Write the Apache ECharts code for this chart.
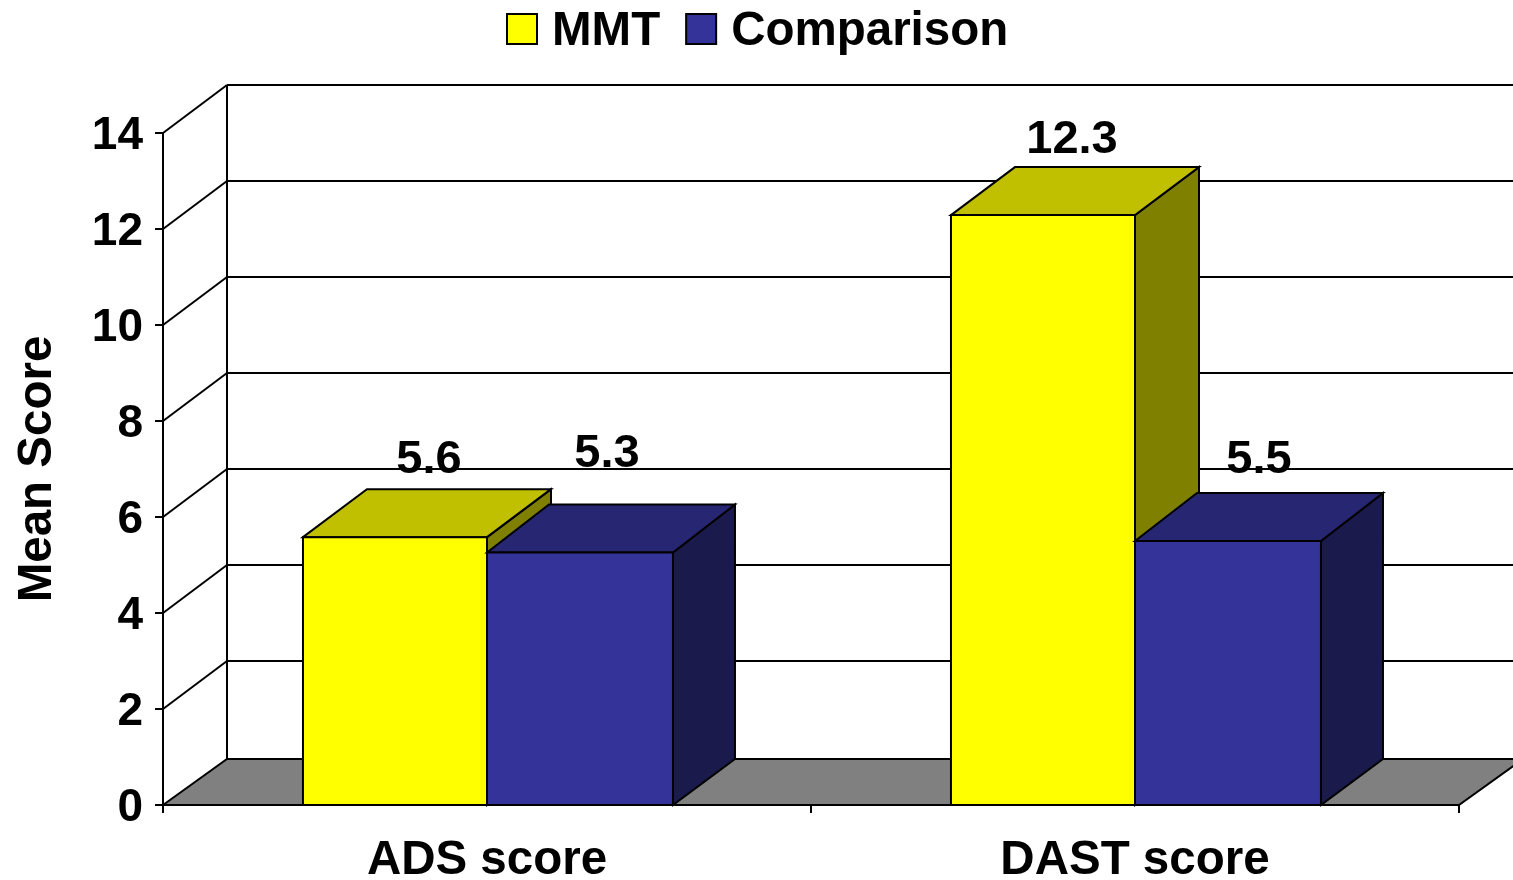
<!DOCTYPE html>
<html>
<head>
<meta charset="utf-8">
<title>Mean Score</title>
<script src="https://cdn.jsdelivr.net/npm/echarts@6/dist/echarts.min.js"></script>
<style>
  html, body { margin: 0; background: #fff; }
  #chart { width: 1513px; height: 880px; }
</style>
</head>
<body>
<div id="chart"></div>
<script>
// chart data
const categories = ['ADS score', 'DAST score'];
const mmtValues = [5.58, 12.29];
const comparisonValues = [5.26, 5.5];
const yTicks = [2, 4, 6, 8, 10, 12, 14];

// fake 3d depth of the box, in px
const depthX = 64;
const depthY = 48;
const floorDepthY = 46;
const font = 'Liberation Sans';

const line = (x1, y1, x2, y2) => ({
  type: 'line',
  shape: {x1, y1, x2, y2},
  style: {stroke: '#000', lineWidth: 2}
});

const poly = (points, fill) => ({
  type: 'polygon',
  shape: {points},
  style: {fill, stroke: '#000', lineWidth: 2, lineJoin: 'miter'}
});

// back wall line and left wall diagonal for one tick
const renderWall = (params, api) => {
  const left = params.coordSys.x;
  const right = left + params.coordSys.width;
  const y = api.coord([0, api.value(0)])[1];
  return {
    type: 'group',
    children: [
      line(left, y, left + depthX, y - depthY),
      line(left + depthX, y - depthY, right + depthX, y - depthY)
    ]
  };
};

// grey floor and the back vertical edge
const renderFloor = (params, api) => {
  const left = params.coordSys.x;
  const right = left + params.coordSys.width;
  const bottom = api.coord([0, 0])[1];
  const top = api.coord([0, yTicks[yTicks.length - 1]])[1];
  return {
    type: 'group',
    children: [
      line(left + depthX, top - depthY, left + depthX, bottom - floorDepthY),
      poly([
        [left, bottom],
        [left + depthX, bottom - floorDepthY],
        [right + depthX, bottom - floorDepthY],
        [right, bottom]
      ], '#808080')
    ]
  };
};

// one 3d bar, side tells which half of the band it takes
const makeBarRender = (side, look, labelOffsets) => (params, api) => {
  const idx = api.value(0);
  const val = api.value(1);
  const top = api.coord([idx, val]);
  const bottom = api.coord([idx, 0])[1];
  const w = api.size([1, 0])[0] * look.share;
  const dx = look.depthX;
  const x0 = side < 0 ? top[0] - w : top[0];
  const x1 = x0 + w;
  const y = top[1];
  const off = labelOffsets[idx];
  return {
    type: 'group',
    children: [
      poly([[x1, y], [x1 + dx, y - depthY], [x1 + dx, bottom - floorDepthY], [x1, bottom]], look.side),
      poly([[x0, y], [x0 + dx, y - depthY], [x1 + dx, y - depthY], [x1, y]], look.top),
      poly([[x0, y], [x1, y], [x1, bottom], [x0, bottom]], look.front),
      {
        type: 'text',
        style: {
          x: x0 + w / 2 + off[0],
          y: y + off[1],
          text: val.toFixed(1),
          fill: '#000',
          font: 'bold 47px "' + font + '"',
          align: 'center',
          verticalAlign: 'middle'
        }
      }
    ]
  };
};

const mmtLook = {front: '#ffff00', top: '#c0c000', side: '#808000', share: 0.284, depthX: 64};
const comparisonLook = {front: '#333399', top: '#262673', side: '#1a1a4d', share: 0.287, depthX: 62};

const chart = echarts.init(document.getElementById('chart'));
chart.setOption({
  animation: false,
  backgroundColor: '#fff',
  legend: {
    data: ['MMT', 'Comparison'],
    left: 506,
    top: 8,
    padding: 0,
    itemWidth: 30,
    itemHeight: 30,
    itemGap: 25,
    icon: 'rect',
    selectedMode: false,
    itemStyle: {borderColor: '#000', borderWidth: 2},
    // rich text so the padding really moves the label down
    formatter: '{t|{name}}',
    textStyle: {
      rich: {
        t: {
          fontFamily: font,
          fontWeight: 'bold',
          fontSize: 47.5,
          color: '#000',
          padding: [6, 0, 0, 10]
        }
      }
    }
  },
  grid: {left: 163, top: 133, width: 1296, height: 672, outerBoundsMode: 'none'},
  xAxis: {
    type: 'category',
    data: categories,
    axisLine: {lineStyle: {color: '#000', width: 2}},
    axisTick: {show: true, length: 8, lineStyle: {color: '#000', width: 2}},
    axisLabel: {
      margin: 32,
      interval: 0,
      color: '#000',
      fontFamily: font,
      fontWeight: 'bold',
      fontSize: 47.5
    }
  },
  yAxis: {
    type: 'value',
    min: 0,
    max: 14,
    interval: 2,
    name: 'Mean Score',
    nameLocation: 'middle',
    nameGap: 101,
    nameTextStyle: {
      color: '#000',
      fontFamily: font,
      fontWeight: 'bold',
      fontSize: 47.5
    },
    splitLine: {show: false},
    axisLine: {show: true, lineStyle: {color: '#000', width: 2}},
    axisTick: {show: true, length: 8, lineStyle: {color: '#000', width: 2}},
    axisLabel: {
      margin: 20,
      color: '#000',
      fontFamily: font,
      fontWeight: 'bold',
      fontSize: 46,
      verticalAlign: 'top',
      lineHeight: 6
    }
  },
  series: [
    {
      name: 'walls',
      type: 'custom',
      silent: true,
      renderItem: renderWall,
      encode: {y: 0},
      data: yTicks.map(v => [v])
    },
    {
      name: 'floor',
      type: 'custom',
      silent: true,
      renderItem: renderFloor,
      data: [[0, 0]]
    },
    {
      name: 'MMT',
      type: 'custom',
      itemStyle: {color: mmtLook.front},
      renderItem: makeBarRender(-1, mmtLook, [[34, -77], [29, -75]]),
      encode: {x: 0, y: 1},
      data: mmtValues.map((v, i) => [i, v])
    },
    {
      name: 'Comparison',
      type: 'custom',
      itemStyle: {color: comparisonLook.front},
      renderItem: makeBarRender(1, comparisonLook, [[27, -98], [31, -81]]),
      encode: {x: 0, y: 1},
      data: comparisonValues.map((v, i) => [i, v])
    }
  ]
});
</script>
</body>
</html>
